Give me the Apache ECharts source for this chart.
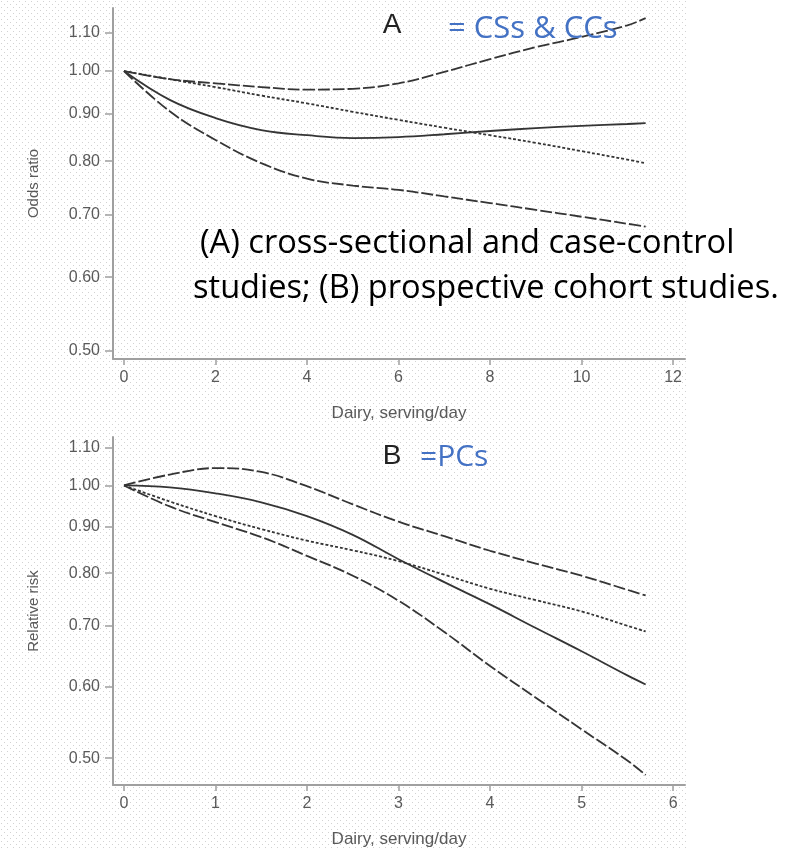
<!DOCTYPE html>
<html>
<head>
<meta charset="utf-8">
<script src="https://cdn.jsdelivr.net/npm/echarts@6/dist/echarts.min.js"></script>
<style>
html,body{margin:0;padding:0;background:#fff;}
#chart{width:790px;height:849px;}
</style>
</head>
<body>
<div id="chart"></div>
<script>
// ---- Panel A data (cross-sectional & case-control) ----
var xA = [0, 1, 2, 3, 4, 5, 6, 7, 8, 9, 10, 11, 11.4];
var aUpperDash = [1.00, 0.980, 0.970, 0.961, 0.955, 0.957, 0.970, 0.998, 1.030, 1.061, 1.088, 1.120, 1.140];
var aDotted    = [1.00, 0.980, 0.961, 0.941, 0.923, 0.904, 0.886, 0.869, 0.853, 0.837, 0.820, 0.803, 0.796];
var aSolid     = [1.00, 0.931, 0.890, 0.864, 0.853, 0.847, 0.849, 0.855, 0.862, 0.868, 0.873, 0.877, 0.879];
var aLowerDash = [1.00, 0.905, 0.843, 0.796, 0.766, 0.753, 0.745, 0.733, 0.721, 0.709, 0.697, 0.685, 0.680];

// ---- Panel B data (prospective cohorts) ----
var xB = [0, 0.5, 1, 1.5, 2, 2.5, 3, 3.5, 4, 4.5, 5, 5.5, 5.7];
var bUpperDash = [1.00, 1.028, 1.045, 1.035, 0.998, 0.953, 0.912, 0.879, 0.847, 0.820, 0.795, 0.767, 0.756];
var bDotted    = [1.00, 0.960, 0.925, 0.895, 0.869, 0.848, 0.825, 0.797, 0.769, 0.747, 0.726, 0.700, 0.690];
var bSolid     = [1.00, 0.995, 0.980, 0.958, 0.925, 0.882, 0.829, 0.782, 0.739, 0.696, 0.656, 0.617, 0.603];
var bLowerDash = [1.00, 0.948, 0.911, 0.877, 0.836, 0.795, 0.746, 0.689, 0.632, 0.583, 0.538, 0.497, 0.479];

// ---- tick labels ----
var yTicks = [0.50, 0.60, 0.70, 0.80, 0.90, 1.00, 1.10];
var xTicksA = [0, 2, 4, 6, 8, 10, 12];
var xTicksB = [0, 1, 2, 3, 4, 5, 6];

function pairs(xs, ys) { return xs.map(function (x, i) { return [x, ys[i]]; }); }

// dotted background pattern
var pc = document.createElement('canvas');
pc.width = 6; pc.height = 6;
var pctx = pc.getContext('2d');
pctx.fillStyle = '#fff'; pctx.fillRect(0, 0, 6, 6);
pctx.fillStyle = '#d2d2d2';
pctx.fillRect(1, 1, 1, 1);
pctx.fillRect(4, 4, 1, 1);

var lineColor = '#353535';
var axisColor = '#a0a0a0';
var labelColor = '#5a5a5a';
var tickFont = 'Liberation Sans';

function mkX(idx, min, max, ticks) {
  return {
    type: 'value', gridIndex: idx, min: min, max: max,
    name: 'Dairy, serving/day', nameLocation: 'middle', nameGap: 46,
    nameTextStyle: { color: labelColor, fontSize: 17, fontFamily: tickFont },
    axisLine: { onZero: false, lineStyle: { color: axisColor, width: 2 } },
    axisTick: { show: true, length: 6, lineStyle: { color: axisColor, width: 1.5 }, customValues: ticks },
    axisLabel: { color: labelColor, fontSize: 16, fontFamily: tickFont, margin: 11, customValues: ticks },
    splitLine: { show: false }
  };
}
function mkY(idx, min, max, name) {
  return {
    type: 'log', gridIndex: idx, min: min, max: max,
    name: name, nameLocation: 'middle', nameGap: 72,
    nameTextStyle: { color: labelColor, fontSize: 15, fontFamily: tickFont },
    axisLine: { show: true, onZero: false, lineStyle: { color: axisColor, width: 2 } },
    axisTick: { show: true, length: 8, lineStyle: { color: axisColor, width: 1.5 }, customValues: yTicks },
    axisLabel: { color: labelColor, fontSize: 16, fontFamily: tickFont, margin: 13, customValues: yTicks,
      formatter: function (v) { return Number(v).toFixed(2); } },
    splitLine: { show: false }
  };
}
function mkS(idx, xs, ys, type) {
  var dash = type === 'long' ? [12, 3] : (type === 'short' ? [3, 2] : 'solid');
  return {
    type: 'line', xAxisIndex: idx, yAxisIndex: idx, data: pairs(xs, ys),
    smooth: 0.4, showSymbol: false, symbol: 'none', silent: true,
    lineStyle: { color: lineColor, width: 1.8, type: dash }
  };
}

var chart = echarts.init(document.getElementById('chart'), null, { renderer: 'canvas' });
chart.setOption({
  animation: false,
  backgroundColor: '#fff',
  grid: [
    { left: 113, top: 8, width: 572, height: 351 },
    { left: 113, top: 437, width: 572, height: 351 }
  ],
  xAxis: [mkX(0, -0.24, 12.26, xTicksA), mkX(1, -0.12, 6.13, xTicksB)],
  yAxis: [mkY(0, 0.490, 1.169, 'Odds ratio'), mkY(1, 0.467, 1.131, 'Relative risk')],
  series: [
    mkS(0, xA, aUpperDash, 'long'),
    mkS(0, xA, aDotted, 'short'),
    mkS(0, xA, aSolid, 'solid'),
    mkS(0, xA, aLowerDash, 'long'),
    mkS(1, xB, bUpperDash, 'long'),
    mkS(1, xB, bDotted, 'short'),
    mkS(1, xB, bSolid, 'solid'),
    mkS(1, xB, bLowerDash, 'long')
  ],
  graphic: [
    { type: 'rect', z: -100, silent: true, shape: { x: 0, y: 0, width: 688, height: 849 },
      style: { fill: { image: pc, repeat: 'repeat' } } },
    { type: 'text', z: 100, x: 392, y: 25, style: { text: 'A', fontSize: 28, fontFamily: tickFont, fill: '#222', align: 'center', verticalAlign: 'middle' } },
    { type: 'text', z: 100, x: 448, y: 29, style: { text: '= CSs & CCs', fontSize: 31, fontFamily: 'Open Sans', fill: '#4472C4', align: 'left', verticalAlign: 'middle' } },
    { type: 'text', z: 100, x: 200, y: 244, style: { text: '(A) cross-sectional and case-control', fontSize: 32.6, fontFamily: 'Open Sans', fill: '#000', align: 'left', verticalAlign: 'middle' } },
    { type: 'text', z: 100, x: 193, y: 289, style: { text: 'studies; (B) prospective cohort studies.', fontSize: 32.6, fontFamily: 'Open Sans', fill: '#000', align: 'left', verticalAlign: 'middle' } },
    { type: 'text', z: 100, x: 392, y: 456, style: { text: 'B', fontSize: 28, fontFamily: tickFont, fill: '#222', align: 'center', verticalAlign: 'middle' } },
    { type: 'text', z: 100, x: 420, y: 457, style: { text: '=PCs', fontSize: 30, fontFamily: 'Open Sans', fill: '#4472C4', align: 'left', verticalAlign: 'middle' } }
  ]
});
</script>
</body>
</html>
